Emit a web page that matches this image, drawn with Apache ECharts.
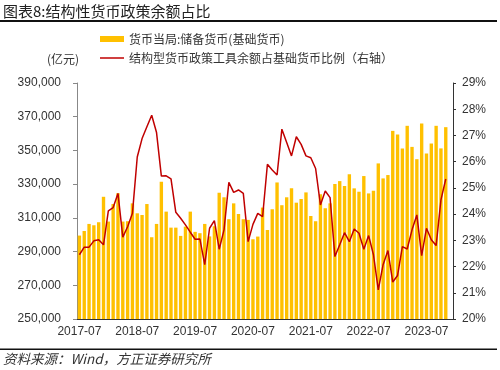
<!DOCTYPE html>
<html>
<head>
<meta charset="utf-8">
<script src="https://cdn.jsdelivr.net/npm/echarts@6/dist/echarts.min.js"></script>
<style>
html,body{margin:0;padding:0;background:#fff;}
#chart{width:500px;height:370px;}
</style>
</head>
<body>
<div id="chart"></div>
<script>
var categories = [
'2017-07','2017-08','2017-09','2017-10','2017-11','2017-12',
'2018-01','2018-02','2018-03','2018-04','2018-05','2018-06','2018-07','2018-08','2018-09','2018-10','2018-11','2018-12',
'2019-01','2019-02','2019-03','2019-04','2019-05','2019-06','2019-07','2019-08','2019-09','2019-10','2019-11','2019-12',
'2020-01','2020-02','2020-03','2020-04','2020-05','2020-06','2020-07','2020-08','2020-09','2020-10','2020-11','2020-12',
'2021-01','2021-02','2021-03','2021-04','2021-05','2021-06','2021-07','2021-08','2021-09','2021-10','2021-11','2021-12',
'2022-01','2022-02','2022-03','2022-04','2022-05','2022-06','2022-07','2022-08','2022-09','2022-10','2022-11','2022-12',
'2023-01','2023-02','2023-03','2023-04','2023-05','2023-06','2023-07','2023-08','2023-09','2023-10','2023-11','2023-12'
];
var reserveMoney = [
299500,302200,306400,305600,307400,322500,
307800,318200,324600,307800,308000,318600,312700,311700,318200,298500,306400,331400,
313700,304200,304200,299300,304800,313700,301700,300900,306400,299000,305000,324900,
322200,309200,318600,312300,309200,308800,297300,298900,316100,302800,315100,331000,
317500,322200,327500,319000,321200,325100,311100,308000,324000,315700,318600,330100,
331800,328900,335800,327500,325500,334800,324500,326100,342300,333400,335400,361600,
359500,351200,364600,352100,344800,366000,348200,354100,364600,351200,363800
];
var structuralRatio = [
22.45,22.74,22.74,22.98,23.02,22.83,
24.12,24.25,24.79,23.12,23.52,24.03,26.18,26.88,27.33,27.77,27.11,25.45,
25.46,25.34,24.07,23.84,23.59,23.31,23.04,23.05,22.07,23.46,23.75,22.66,
23.40,25.21,24.83,24.92,24.79,22.95,23.61,24.03,23.90,25.90,25.68,25.49,
27.24,26.73,26.22,26.95,26.66,26.22,26.15,25.74,24.35,24.88,24.63,22.38,
22.83,23.29,22.95,23.43,23.27,22.66,23.18,22.45,21.11,22.07,22.61,21.41,
21.66,22.76,22.67,23.40,23.97,22.42,23.46,23.02,22.80,24.54,25.34
];
var seriesNames = ['货币当局:储备货币(基础货币)', '结构型货币政策工具余额占基础货币比例（右轴）'];
var titleText = '图表8:结构性货币政策余额占比';
var sourceText = '资料来源：Wind，方正证券研究所';
var unitText = '(亿元)';

var FONT = '"Liberation Sans", "Noto Sans CJK SC", sans-serif';
var chart = echarts.init(document.getElementById('chart'), null, {renderer: 'canvas'});
chart.setOption({
  animation: false,
  backgroundColor: '#fff',
  textStyle: {fontFamily: FONT},
  grid: {left: 77, right: 47, top: 83, bottom: 51, containLabel: false},
  graphic: [
    {type: 'text', left: 3, top: 4, style: {text: titleText, font: '15px "Noto Sans CJK SC", sans-serif', fill: '#222'}},
    {type: 'rect', shape: {x: 0, y: 20, width: 497, height: 2}, style: {fill: '#111'}},
    {type: 'text', left: 47, top: 53, style: {text: unitText, font: '12px "Noto Sans CJK SC", sans-serif', fill: '#333'}},
    {type: 'rect', shape: {x: 0, y: 348.5, width: 497, height: 1.5}, style: {fill: '#111'}},
    {type: 'text', left: 3, top: 352, style: {text: sourceText, font: 'italic 13.5px "Noto Sans CJK SC", sans-serif', fill: '#333'}}
  ],
  legend: {
    orient: 'vertical',
    left: 100,
    top: 33,
    padding: 0,
    itemGap: 7,
    itemWidth: 24,
    itemHeight: 6,
    textStyle: {fontSize: 12, color: '#333', fontFamily: '"Noto Sans CJK SC", sans-serif'},
    data: [
      {name: seriesNames[0], icon: 'rect'},
      {name: seriesNames[1], icon: 'path://M0,0L24,0L24,1.5L0,1.5Z'}
    ]
  },
  xAxis: {
    type: 'category',
    data: categories,
    boundaryGap: true,
    axisLine: {lineStyle: {color: '#333', width: 1}},
    axisTick: {show: false},
    axisLabel: {interval: 11, color: '#333', fontSize: 12, margin: 7}
  },
  yAxis: [
    {
      type: 'value', min: 250000, max: 390000, interval: 20000,
      splitLine: {show: false},
      axisLine: {show: true, lineStyle: {color: '#888'}},
      axisTick: {show: true, length: 4, lineStyle: {color: '#888'}},
      axisLabel: {color: '#333', fontSize: 12, margin: 16,
        formatter: function (v) { return v.toLocaleString('en-US'); }}
    },
    {
      type: 'value', min: 20, max: 29, interval: 1, position: 'right',
      splitLine: {show: false},
      axisLine: {show: true, lineStyle: {color: '#333'}},
      axisTick: {show: true, length: 3, lineStyle: {color: '#333'}},
      axisLabel: {color: '#333', fontSize: 12, margin: 9, formatter: '{value}%'}
    }
  ],
  series: [
    {
      name: seriesNames[0], type: 'bar', yAxisIndex: 0, data: reserveMoney,
      barCategoryGap: '30%',
      itemStyle: {color: '#FFC000'}
    },
    {
      name: seriesNames[1], type: 'line', yAxisIndex: 1, data: structuralRatio,
      symbol: 'none',
      lineStyle: {color: '#C00000', width: 1.5}, itemStyle: {color: '#C00000'}
    }
  ]
});
</script>
</body>
</html>
